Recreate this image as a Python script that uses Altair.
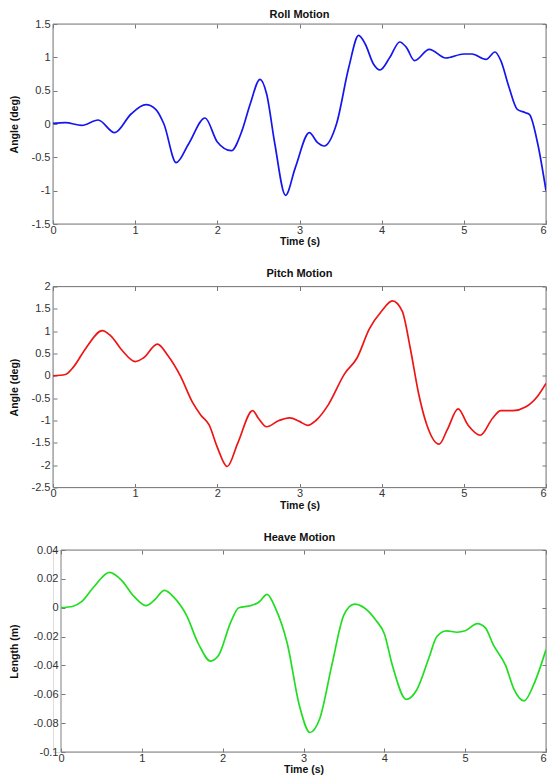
import altair as alt
import pandas as pd

# ---------------- data ----------------
roll_t = [0.0, 0.15, 0.35, 0.55, 0.75, 0.95, 1.13, 1.25, 1.35, 1.5, 1.65, 1.85, 2.0, 2.17,
          2.3, 2.4, 2.52, 2.6, 2.7, 2.83, 2.95, 3.12, 3.22, 3.3, 3.45, 3.6, 3.72, 3.8, 3.9,
          3.98, 4.1, 4.22, 4.3, 4.4, 4.58, 4.78, 5.0, 5.1, 5.27, 5.38, 5.45, 5.55, 5.65,
          5.75, 5.8, 5.9, 6.0]
roll_v = [0.01, 0.02, -0.02, 0.06, -0.13, 0.15, 0.29, 0.22, 0.0, -0.58, -0.3, 0.09, -0.27, -0.40,
          -0.1, 0.3, 0.67, 0.45, -0.3, -1.07, -0.65, -0.13, -0.28, -0.33, 0.0, 0.85, 1.33, 1.2, 0.9,
          0.81, 1.0, 1.23, 1.15, 0.95, 1.12, 0.99, 1.05, 1.05, 0.97, 1.08, 0.95, 0.55, 0.22,
          0.17, 0.14, -0.3, -1.0]

pitch_t = [0.0, 0.15, 0.25, 0.4, 0.6, 0.7, 0.85, 1.0, 1.1, 1.27, 1.4, 1.55, 1.7, 1.8, 1.9,
           2.0, 2.12, 2.25, 2.43, 2.5, 2.6, 2.75, 2.88, 3.0, 3.1, 3.2, 3.35, 3.55, 3.7, 3.85,
           4.0, 4.13, 4.25, 4.35, 4.45, 4.55, 4.7, 4.8, 4.93, 5.05, 5.2, 5.35, 5.45, 5.6,
           5.75, 5.9, 6.0]
pitch_v = [0.0, 0.03, 0.2, 0.62, 1.01, 0.9, 0.55, 0.32, 0.4, 0.71, 0.45, 0.0, -0.6, -0.88, -1.1,
           -1.6, -2.03, -1.5, -0.78, -0.95, -1.14, -1.0, -0.94, -1.02, -1.11, -1.0, -0.65, 0.05,
           0.4, 1.05, 1.45, 1.68, 1.45, 0.6, -0.4, -1.1, -1.53, -1.2, -0.74, -1.1, -1.33, -0.95,
           -0.78, -0.78, -0.7, -0.45, -0.17]

heave_t = [0.0, 0.15, 0.25, 0.4, 0.6, 0.75, 0.9, 1.05, 1.15, 1.28, 1.4, 1.55, 1.7, 1.85, 1.95,
           2.1, 2.2, 2.35, 2.45, 2.55, 2.65, 2.8, 2.95, 3.08, 3.2, 3.35, 3.5, 3.63, 3.75, 3.9,
           4.0, 4.1, 4.27, 4.4, 4.55, 4.65, 4.77, 4.9, 5.0, 5.15, 5.25, 5.35, 5.5, 5.6, 5.73,
           5.85, 6.0]
heave_v = [0.0, 0.001, 0.004, 0.014, 0.0245, 0.019, 0.008, 0.0015, 0.005, 0.012, 0.007, -0.005,
           -0.025, -0.037, -0.033, -0.01, 0.0, 0.0015, 0.004, 0.0093, 0.0, -0.025, -0.068,
           -0.0865, -0.077, -0.04, -0.005, 0.0025, 0.0, -0.009, -0.018, -0.04, -0.0635, -0.057,
           -0.035, -0.02, -0.016, -0.017, -0.016, -0.011, -0.014, -0.026, -0.04, -0.056,
           -0.0645, -0.053, -0.029]

x_ticks = [0, 1, 2, 3, 4, 5, 6]
roll_ticks = [-1.5, -1, -0.5, 0, 0.5, 1, 1.5]
pitch_ticks = [-2.5, -2, -1.5, -1, -0.5, 0, 0.5, 1, 1.5, 2]
heave_ticks = [-0.1, -0.08, -0.06, -0.04, -0.02, 0, 0.02, 0.04]

FONT = "Liberation Sans"
LABEL_COLOR = "#333333"
TICK_COLOR = "#777777"
FRAME_COLOR = "#808080"


def panel(t, v, color, title, ytitle, ydomain, yticks, width, height, yext, toff,
          inset=0):
    df = pd.DataFrame({"t": t, "v": v})
    xs = alt.Scale(domain=[0, 6], nice=False, zero=False, range=[inset, width])
    ys = alt.Scale(domain=ydomain, nice=False, zero=False)
    main = alt.Chart(df).mark_line(
        color=color, strokeWidth=1.7, interpolate="monotone", clip=True
    ).encode(
        x=alt.X("t:Q", scale=xs, axis=alt.Axis(
            values=x_ticks, title="Time (s)", orient="bottom", offset=-4, tickSize=4,
            domain=False, grid=False, labelPadding=0, labelFontSize=11, labelFont=FONT,
            labelColor=LABEL_COLOR, tickColor=TICK_COLOR, titleFont=FONT, titleFontSize=10.5,
            titleFontWeight="bold", titleColor="#111111", titlePadding=1.5,
            labelAlign={"condition": {"test": "datum.value == 6", "value": "right"},
                        "value": "center"},
            labelExpr="toString(datum.value)", labelFlush=False, labelOverlap=False)),
        y=alt.Y("v:Q", scale=ys, axis=alt.Axis(
            values=yticks, title=ytitle, orient="left", offset=-4 - inset, tickSize=4,
            domain=False, grid=False, labelPadding=3, labelFontSize=11, labelFont=FONT,
            labelColor=LABEL_COLOR, tickColor=TICK_COLOR, titleFont=FONT, titleFontSize=10.5,
            titleFontWeight="bold", titleColor="#111111", titlePadding=4,
            minExtent=yext, maxExtent=yext,
            labelExpr="toString(datum.value)", labelFlush=False, labelOverlap=False)),
    )
    mirror = alt.Chart(df).mark_line(strokeOpacity=0).encode(
        x=alt.X("t:Q", scale=xs, axis=alt.Axis(
            values=x_ticks, title=None, orient="top", offset=-4, tickSize=4, domain=False,
            grid=False, labels=False, tickColor=TICK_COLOR, minExtent=0, maxExtent=0)),
        y=alt.Y("v:Q", scale=ys, axis=alt.Axis(
            values=yticks, title=None, orient="right", offset=-4, tickSize=4, domain=False,
            grid=False, labels=False, tickColor=TICK_COLOR, minExtent=0, maxExtent=0)),
    )
    frame = alt.Chart(pd.DataFrame({"frame": [0]})).mark_rect(
        fillOpacity=0, stroke=FRAME_COLOR, strokeWidth=1
    ).encode(
        x=alt.XDatum(0, type="quantitative", scale=xs, axis=None),
        x2=alt.X2Datum(6),
        y=alt.YDatum(ydomain[0], type="quantitative", scale=ys, axis=None),
        y2=alt.Y2Datum(ydomain[1]),
    )
    return alt.layer(frame, main, mirror).resolve_axis(
        x="independent", y="independent"
    ).properties(
        width=width, height=height,
        title=alt.TitleParams(title, font=FONT, fontSize=11, fontWeight="bold",
                              color="#111111", offset=toff, anchor="middle", frame="group"),
    )


roll = panel(roll_t, roll_v, "#1515ee", "Roll Motion", "Angle (deg)", [-1.5, 1.5],
             roll_ticks, 493, 200, 34, -2)
pitch = panel(pitch_t, pitch_v, "#ee1515", "Pitch Motion", "Angle (deg)", [-2.5, 2],
              pitch_ticks, 493, 201, 34, 1.5)
heave = panel(heave_t, heave_v, "#22dd22", "Heave Motion", "Length (m)", [-0.1, 0.04],
              heave_ticks, 493, 202, 42, 1.5, inset=8)

chart = alt.concat(roll, pitch, heave, columns=1, spacing=19.5).properties(
    padding={"left": 0, "top": 0, "right": 0, "bottom": 0}
).configure_view(strokeWidth=0).configure(background="white")

chart.save("out.html", embed_options={"renderer": "svg", "actions": False})
